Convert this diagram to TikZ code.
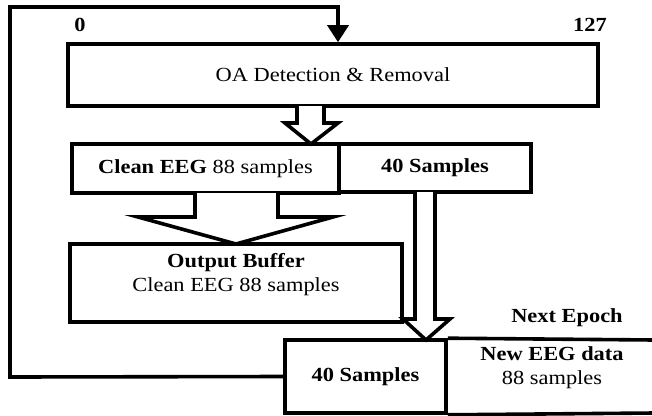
\documentclass[tikz,border=0pt]{standalone}
\usepackage{fontspec}
\setmainfont[FakeStretch=1.12]{Liberation Serif}
\usetikzlibrary{arrows.meta,calc}
\begin{document}
\begin{tikzpicture}[x=1pt,y=-1pt,
  lw/.style={line width=3.6pt},
  boxn/.style={lw,draw,rectangle,inner sep=0pt,font=\fontsize{20}{24}\selectfont,align=center},
  txt/.style={inner sep=0pt,font=\fontsize{20}{24}\selectfont,align=center},
  hollow/.style={lw,draw,fill=white,line join=miter},
  fb/.style={lw,line join=miter}
]
\useasboundingbox (0,0) rectangle (652,415);
% boxes
\node[boxn,minimum width=530pt,minimum height=62pt] (oa) at (333,75) {OA Detection \& Removal};
\node[boxn,minimum width=267pt,minimum height=49pt] (clean) at (205.5,168.5) {\textbf{Clean EEG} 88 samples};
\node[boxn,minimum width=192pt,minimum height=48pt] (sa) at (435,168) {\textbf{40 Samples}};
\node[boxn,minimum width=332pt,minimum height=78pt] (out) at (236,283) {};
\node[txt] (outl) at (236,275) {\textbf{Output Buffer}\\Clean EEG 88 samples};
\node[boxn,minimum width=161pt,minimum height=73pt] (sb) at (365.5,376.5) {\textbf{40 Samples}};
\node[txt] (newd) at (552,368) {\textbf{New EEG data}\\88 samples};
\coordinate (nr1) at (654,340);
\coordinate (nr2) at (654,413);
\draw[lw] (sb.north east) -- (nr1);
\draw[lw] (sb.south east) -- (nr2);
% labels
\node[txt] (l0) at (80,25) {\textbf{0}};
\node[txt] (l127) at (590,25) {\textbf{127}};
\node[txt] (next) at (567,318) {\textbf{Next Epoch}};
% feedback connector
\coordinate (c1) at (10,377);
\coordinate (c2) at (10,7);
\coordinate (c3) at (338,7);
\draw[fb,-{Triangle[width=21pt,length=17pt]}] (sb.west) -- (c1) -- (c2) -- (c3) -- (c3 |- oa.north);
% hollow arrows
\draw[hollow] (297,106) -- (297,123) -- (285,123) -- (311,144) -- (338,123) -- (324,123) -- (324,106);
\draw[hollow] (195,193) -- (195,217) -- (138,217) -- (236,244) -- (333,217) -- (278,217) -- (278,193);
\draw[hollow] (415,192) -- (415,319) -- (403,319) -- (426,340) -- (450,319) -- (435,319) -- (435,192);
\end{tikzpicture}
\end{document}
